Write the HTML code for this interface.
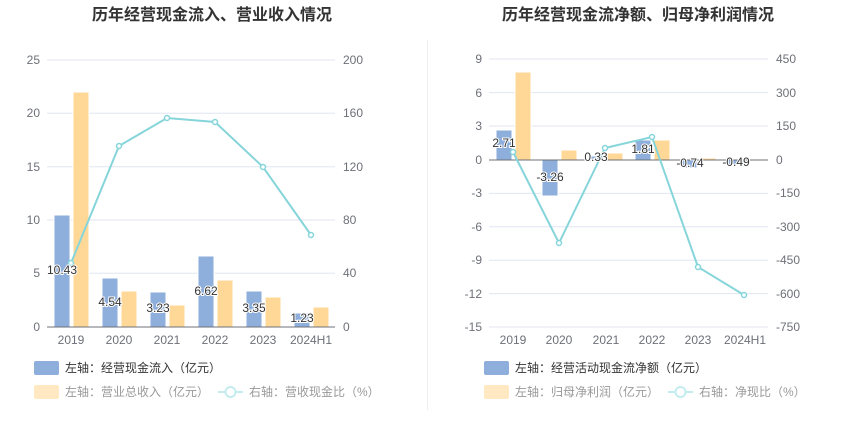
<!DOCTYPE html>
<html><head><meta charset="utf-8"><style>
body{margin:0;background:#fff;}
svg{display:block;font-family:"Liberation Sans","Noto Sans CJK SC",sans-serif;}
</style></head><body>
<svg width="850" height="437" viewBox="0 0 850 437">
<text x="212" y="20" text-anchor="middle" font-size="16" font-weight="bold" fill="#333">历年经营现金流入、营业收入情况</text>
<text x="638" y="20" text-anchor="middle" font-size="16" font-weight="bold" fill="#333">历年经营现金流净额、归母净利润情况</text>
<line x1="427.5" y1="40" x2="427.5" y2="410" stroke="#eee"/>
<!-- LEFT -->
<g stroke="#e0e6f1">
<line x1="47" x2="335" y1="60" y2="60"/><line x1="47" x2="335" y1="113.3" y2="113.3"/><line x1="47" x2="335" y1="166.7" y2="166.7"/><line x1="47" x2="335" y1="220" y2="220"/><line x1="47" x2="335" y1="273.3" y2="273.3"/>
</g>
<g font-size="12" fill="#6e7079" text-anchor="end">
<text x="40" y="64">25</text><text x="40" y="117">20</text><text x="40" y="171">15</text><text x="40" y="224">10</text><text x="40" y="277">5</text><text x="40" y="331">0</text>
</g>
<g font-size="12" fill="#6e7079">
<text x="343" y="64">200</text><text x="343" y="117">160</text><text x="343" y="171">120</text><text x="343" y="224">80</text><text x="343" y="277">40</text><text x="343" y="331">0</text>
</g>
<g fill="#8eaedb" stroke="#fff" stroke-width="1">
<rect x="54" y="215" width="16" height="112"/><rect x="102" y="278" width="16" height="49"/><rect x="150" y="292" width="16" height="35"/><rect x="198" y="256" width="16" height="71"/><rect x="246" y="291" width="16" height="36"/><rect x="294" y="313" width="16" height="14"/>
</g>
<g fill="#ffd898" stroke="#fff" stroke-width="1">
<rect x="73" y="92" width="16" height="235"/><rect x="121" y="291" width="16" height="36"/><rect x="169" y="305" width="16" height="22"/><rect x="217" y="280" width="16" height="47"/><rect x="265" y="297" width="16" height="30"/><rect x="313" y="307" width="16" height="20"/>
</g>
<line x1="47" x2="335" y1="327" y2="327" stroke="#6e7079"/>
<g font-size="12" fill="#6e7079" text-anchor="middle">
<text x="71" y="344">2019</text><text x="119" y="344">2020</text><text x="167" y="344">2021</text><text x="215" y="344">2022</text><text x="263" y="344">2023</text><text x="311" y="344">2024H1</text>
</g>
<polyline points="71,263 119,146 167,118 215,122 263,167 311,235" fill="none" stroke="#86d5da" stroke-width="2"/>
<g fill="#fff" stroke="#86d5da" stroke-width="1.5">
<circle cx="71" cy="263" r="2.5"/><circle cx="119" cy="146" r="2.5"/><circle cx="167" cy="118" r="2.5"/><circle cx="215" cy="122" r="2.5"/><circle cx="263" cy="167" r="2.5"/><circle cx="311" cy="235" r="2.5"/>
</g>
<g font-size="12" fill="#333" text-anchor="middle" stroke="#fff" stroke-width="2" paint-order="stroke">
<text x="62" y="274">10.43</text><text x="110" y="306">4.54</text><text x="158" y="312">3.23</text><text x="206" y="295">6.62</text><text x="254" y="312">3.35</text><text x="302" y="322">1.23</text>
</g>
<rect x="34" y="361" width="25" height="14" rx="2" fill="#8eaedb"/>
<text x="65" y="372" font-size="12" fill="#333">左轴：经营现金流入（亿元）</text>
<rect x="34" y="385" width="25" height="14" rx="2" fill="#ffe8c2"/>
<text x="65" y="396" font-size="12" fill="#999">左轴：营业总收入（亿元）</text>
<line x1="218" x2="243" y1="392" y2="392" stroke="#c4ecee" stroke-width="2"/><circle cx="230.5" cy="392" r="5" fill="#fff" stroke="#c4ecee" stroke-width="2"/>
<text x="249" y="396" font-size="12" fill="#999">右轴：营收现金比（%）</text>
<!-- RIGHT -->
<g stroke="#e0e6f1">
<line x1="489" x2="768" y1="59" y2="59"/><line x1="489" x2="768" y1="92.6" y2="92.6"/><line x1="489" x2="768" y1="126" y2="126"/><line x1="489" x2="768" y1="193.4" y2="193.4"/><line x1="489" x2="768" y1="226.8" y2="226.8"/><line x1="489" x2="768" y1="260.2" y2="260.2"/><line x1="489" x2="768" y1="293.6" y2="293.6"/><line x1="489" x2="768" y1="327" y2="327"/>
</g>
<g font-size="12" fill="#6e7079" text-anchor="end">
<text x="482" y="63">9</text><text x="482" y="97">6</text><text x="482" y="130">3</text><text x="482" y="164">0</text><text x="482" y="197">-3</text><text x="482" y="231">-6</text><text x="482" y="264">-9</text><text x="482" y="298">-12</text><text x="482" y="331">-15</text>
</g>
<g font-size="12" fill="#6e7079">
<text x="776" y="63">450</text><text x="776" y="97">300</text><text x="776" y="130">150</text><text x="776" y="164">0</text><text x="776" y="197">-150</text><text x="776" y="231">-300</text><text x="776" y="264">-450</text><text x="776" y="298">-600</text><text x="776" y="331">-750</text>
</g>
<g fill="#8eaedb" stroke="#fff" stroke-width="1">
<rect x="496" y="130" width="16" height="30"/><rect x="542" y="160" width="16" height="36"/><rect x="588" y="156" width="16" height="4"/><rect x="635" y="140" width="16" height="20"/><rect x="681" y="160" width="16" height="8"/><rect x="728" y="160" width="16" height="5"/>
</g>
<g fill="#ffd898" stroke="#fff" stroke-width="1">
<rect x="515" y="72" width="16" height="88"/><rect x="561" y="150" width="16" height="10"/><rect x="607" y="153" width="16" height="7"/><rect x="654" y="140" width="16" height="20"/><rect x="700" y="158" width="16" height="2"/><rect x="747" y="159" width="16" height="1"/>
</g>
<line x1="489" x2="768" y1="160" y2="160" stroke="#6e7079"/>
<g font-size="12" fill="#6e7079" text-anchor="middle">
<text x="513" y="344">2019</text><text x="559" y="344">2020</text><text x="606" y="344">2021</text><text x="652" y="344">2022</text><text x="698" y="344">2023</text><text x="745" y="344">2024H1</text>
</g>
<polyline points="513,152 559,243 605,148 652,137 698,267 744,295" fill="none" stroke="#86d5da" stroke-width="2"/>
<g fill="#fff" stroke="#86d5da" stroke-width="1.5">
<circle cx="513" cy="152" r="2.5"/><circle cx="559" cy="243" r="2.5"/><circle cx="605" cy="148" r="2.5"/><circle cx="652" cy="137" r="2.5"/><circle cx="698" cy="267" r="2.5"/><circle cx="744" cy="295" r="2.5"/>
</g>
<g font-size="12" fill="#333" text-anchor="middle" stroke="#fff" stroke-width="2" paint-order="stroke">
<text x="504" y="147">2.71</text><text x="550" y="181">-3.26</text><text x="596" y="161">0.33</text><text x="643" y="153">1.81</text><text x="690" y="167">-0.74</text><text x="736" y="166">-0.49</text>
</g>
<rect x="484" y="361" width="25" height="14" rx="2" fill="#8eaedb"/>
<text x="515" y="372" font-size="12" fill="#333">左轴：经营活动现金流净额（亿元）</text>
<rect x="484" y="385" width="25" height="14" rx="2" fill="#ffe8c2"/>
<text x="515" y="396" font-size="12" fill="#999">左轴：归母净利润（亿元）</text>
<line x1="668" x2="693" y1="392" y2="392" stroke="#c4ecee" stroke-width="2"/><circle cx="680.5" cy="392" r="5" fill="#fff" stroke="#c4ecee" stroke-width="2"/>
<text x="699" y="396" font-size="12" fill="#999">右轴：净现比（%）</text>
</svg>
</body></html>
